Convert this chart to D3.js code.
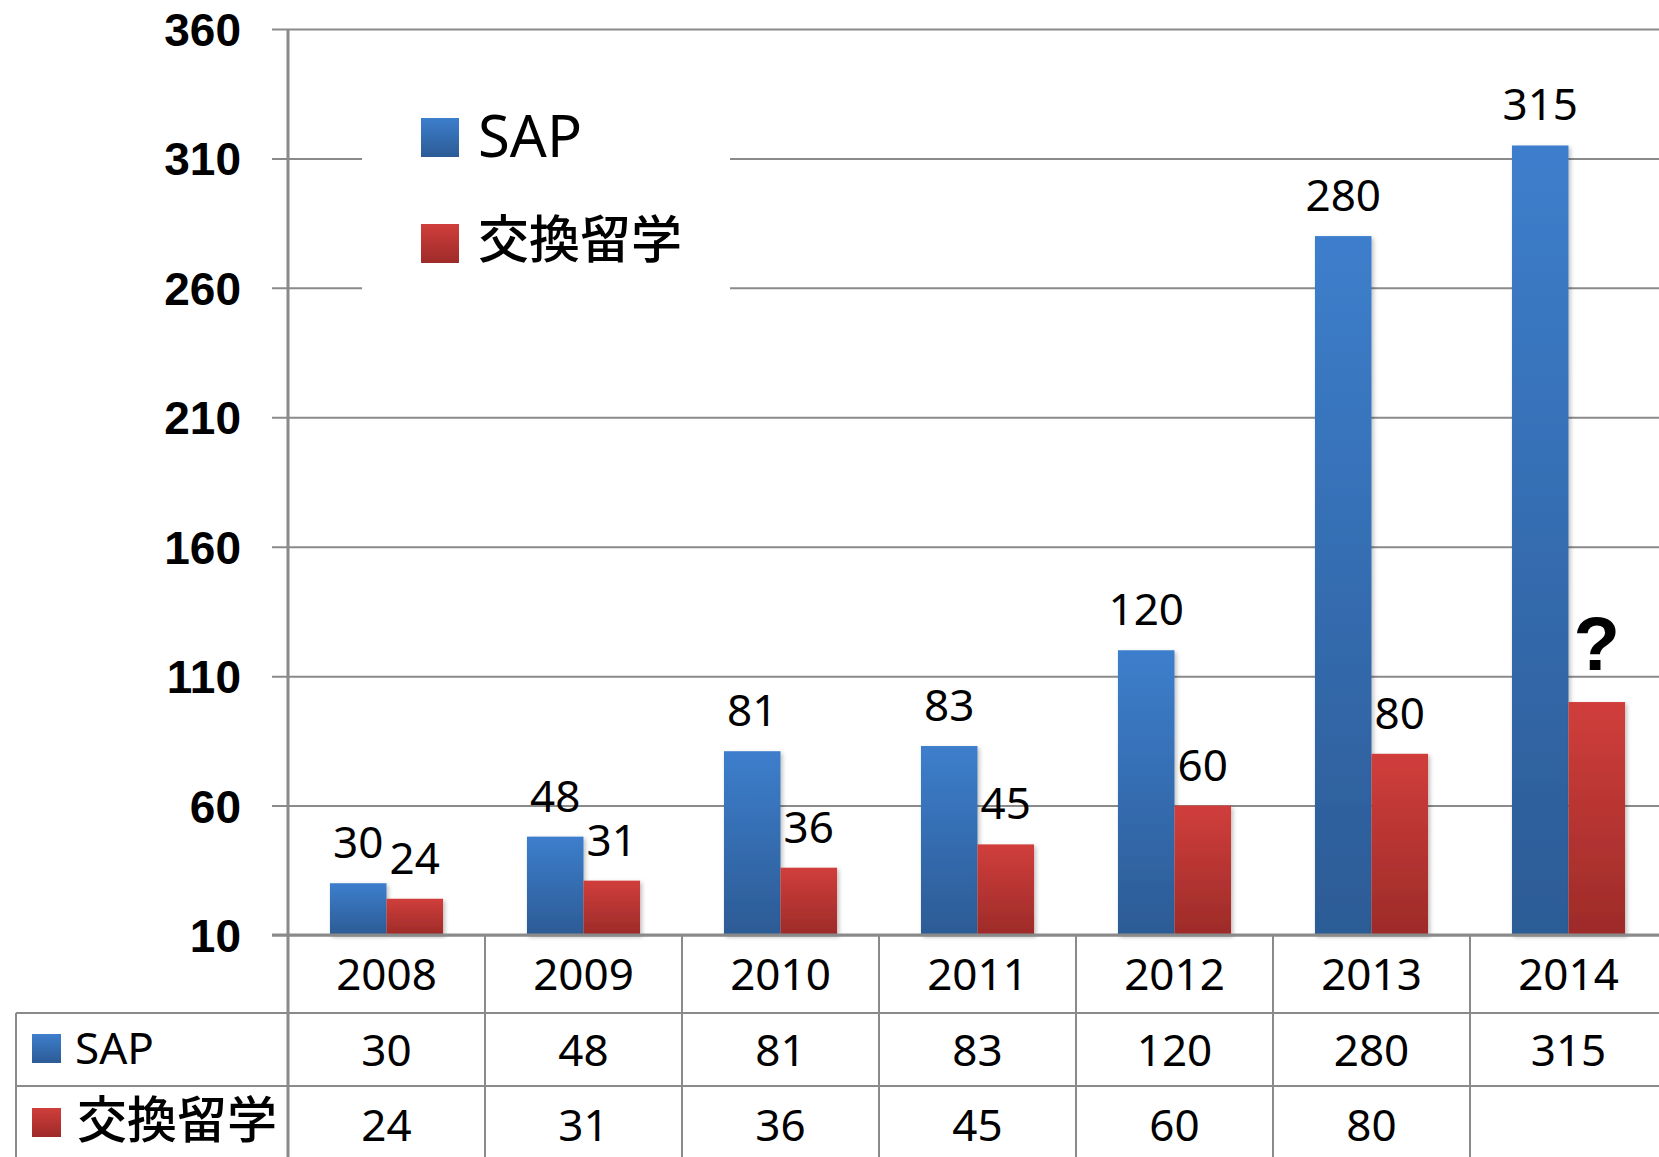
<!DOCTYPE html>
<html>
<head>
<meta charset="utf-8">
<script src="https://cdn.jsdelivr.net/npm/d3@7/dist/d3.min.js"></script>
<style>
  html, body { margin: 0; padding: 0; background: #fff; }
  svg { display: block; }
</style>
</head>
<body>
<svg id="chart" width="1659" height="1157"></svg>
<script>
// ---- data ----
const categories = ['2008', '2009', '2010', '2011', '2012', '2013', '2014'];
const sapValues = [30, 48, 81, 83, 120, 280, 315];
const exchangeValues = [24, 31, 36, 45, 60, 80, 100];
const sapLabels = ['30', '48', '81', '83', '120', '280', '315'];
const exchangeLabels = ['24', '31', '36', '45', '60', '80', '?'];
const sapTable = ['30', '48', '81', '83', '120', '280', '315'];
const exchangeTable = ['24', '31', '36', '45', '60', '80', ''];
const seriesNames = ['SAP', '交換留学'];
const yTicks = [10, 60, 110, 160, 210, 260, 310, 360];

// ---- layout ----
const W = 1659, H = 1157;
const plotLeft = 288, plotRight = 1667, plotTop = 29, plotBottom = 935;
const row1 = 1013, row2 = 1086;
const tableLeft = 16;
const gridColor = '#8a8a8a';
const font = "'Noto Sans', 'Open Sans', sans-serif";
const tickFont = "'Liberation Sans', Arial, sans-serif";
const cjk = "'Noto Sans CJK JP', 'Noto Sans', sans-serif";

const svg = d3.select('#chart');
const defs = svg.append('defs');
function grad(id, top, bottom) {
  const g = defs.append('linearGradient').attr('id', id)
    .attr('x1', 0).attr('y1', 0).attr('x2', 0).attr('y2', 1);
  g.append('stop').attr('offset', '0%').attr('stop-color', top);
  g.append('stop').attr('offset', '100%').attr('stop-color', bottom);
}
grad('gBlue', '#3D7ECC', '#2C5B95');
grad('gRed', '#D03E3B', '#9D2B29');
const colors = ['url(#gBlue)', 'url(#gRed)'];

const shadow = defs.append('filter').attr('id', 'shadow')
  .attr('x', '-20%').attr('y', '-5%').attr('width', '140%').attr('height', '115%');
shadow.append('feDropShadow').attr('dx', 2).attr('dy', 2).attr('stdDeviation', 2)
  .attr('flood-color', '#000').attr('flood-opacity', 0.25);

const x0 = d3.scaleBand().domain(categories).range([plotLeft, plotRight]).padding(0);
const groupFrac = 0.574;
const x1 = d3.scaleBand().domain(seriesNames)
  .range([x0.bandwidth() * (1 - groupFrac) / 2, x0.bandwidth() * (1 + groupFrac) / 2])
  .padding(0);
const y = d3.scaleLinear().domain([10, 360]).range([plotBottom, plotTop]);

// gridlines + y tick labels
const yAxis = d3.axisLeft(y).tickValues(yTicks)
  .tickSize(-(plotRight - 272)).tickPadding(31).tickFormat(d3.format('d'));
const ga = svg.append('g').attr('transform', 'translate(272,0)').call(yAxis);
ga.select('.domain').remove();
ga.selectAll('.tick line').attr('stroke', gridColor).attr('stroke-width', 2);
ga.selectAll('.tick text')
  .attr('font-family', tickFont).attr('font-weight', 'bold').attr('font-size', 46)
  .attr('fill', '#000').attr('dy', '0.36em');

// legend box (white background over gridlines)
svg.append('rect').attr('x', 362).attr('y', 70).attr('width', 368).attr('height', 250)
  .attr('fill', '#fff');
const legend = svg.append('g');
const legendRows = [
  { name: seriesNames[0], color: colors[0], y: 118, ty: 157, f: font, size: 58, w: 'normal' },
  { name: seriesNames[1], color: colors[1], y: 224, ty: 258, f: cjk, size: 51, w: 500 }
];
legendRows.forEach(r => {
  legend.append('rect').attr('x', 421).attr('y', r.y).attr('width', 38).attr('height', 39)
    .attr('fill', r.color);
  legend.append('text').attr('x', 478).attr('y', r.ty).text(r.name)
    .attr('font-family', r.f).attr('font-size', r.size).attr('font-weight', r.w)
    .attr('fill', '#000');
});

// bars
const series = [
  { name: seriesNames[0], values: sapValues, labels: sapLabels, color: colors[0] },
  { name: seriesNames[1], values: exchangeValues, labels: exchangeLabels, color: colors[1] }
];
const barsG = svg.append('g');
series.forEach(s => {
  barsG.selectAll(null).data(categories).enter().append('rect')
    .attr('x', (c) => x0(c) + x1(s.name))
    .attr('y', (c, i) => y(s.values[i]))
    .attr('width', x1.bandwidth())
    .attr('height', (c, i) => y(10) - y(s.values[i]))
    .attr('fill', s.color)
    .attr('filter', 'url(#shadow)');
});

// data labels
series.forEach(s => {
  svg.append('g').selectAll(null).data(categories).enter().append('text')
    .attr('x', (c) => x0(c) + x1(s.name) + x1.bandwidth() / 2)
    .attr('y', (c, i) => s.labels[i] === '?' ? y(s.values[i]) - 32 : y(s.values[i]) - 25)
    .attr('text-anchor', 'middle')
    .attr('font-family', (c, i) => s.labels[i] === '?' ? "'Liberation Sans', sans-serif" : font)
    .attr('font-weight', (c, i) => s.labels[i] === '?' ? 'bold' : 'normal')
    .attr('font-size', (c, i) => s.labels[i] === '?' ? 76 : 44)
    .attr('fill', '#000')
    .text((c, i) => s.labels[i]);
});

// table lines
const tl = svg.append('g').attr('stroke', gridColor).attr('stroke-width', 2).attr('fill', 'none');
tl.append('line').attr('x1', tableLeft).attr('x2', plotRight).attr('y1', row1).attr('y2', row1);
tl.append('line').attr('x1', tableLeft).attr('x2', plotRight).attr('y1', row2).attr('y2', row2);
tl.append('line').attr('x1', tableLeft).attr('x2', tableLeft).attr('y1', row1).attr('y2', H);
tl.selectAll(null).data(categories.slice(1)).enter().append('line')
  .attr('x1', c => x0(c)).attr('x2', c => x0(c))
  .attr('y1', plotBottom).attr('y2', H);
// y axis line
svg.append('line').attr('x1', plotLeft).attr('x2', plotLeft).attr('y1', plotTop).attr('y2', H)
  .attr('stroke', gridColor).attr('stroke-width', 3);
// baseline
svg.append('line').attr('x1', 272).attr('x2', plotRight).attr('y1', plotBottom).attr('y2', plotBottom)
  .attr('stroke', gridColor).attr('stroke-width', 3);

// table texts
function rowText(arr, baseline) {
  svg.append('g').selectAll(null).data(categories).enter().append('text')
    .attr('x', c => x0(c) + x0.bandwidth() / 2)
    .attr('y', baseline)
    .attr('text-anchor', 'middle')
    .attr('font-family', font).attr('font-size', 44).attr('fill', '#000')
    .text((c, i) => arr[i]);
}
rowText(categories, 990);
rowText(sapTable, 1066);
rowText(exchangeTable, 1141);

// table row headers
svg.append('rect').attr('x', 32).attr('y', 1034).attr('width', 29).attr('height', 29).attr('fill', colors[0]);
svg.append('text').attr('x', 75).attr('y', 1064).text(seriesNames[0])
  .attr('font-family', font).attr('font-size', 44).attr('fill', '#000');
svg.append('rect').attr('x', 32).attr('y', 1108).attr('width', 29).attr('height', 29).attr('fill', colors[1]);
svg.append('text').attr('x', 77).attr('y', 1138).text(seriesNames[1])
  .attr('font-family', cjk).attr('font-size', 50).attr('font-weight', 500).attr('fill', '#000');
</script>
</body>
</html>
